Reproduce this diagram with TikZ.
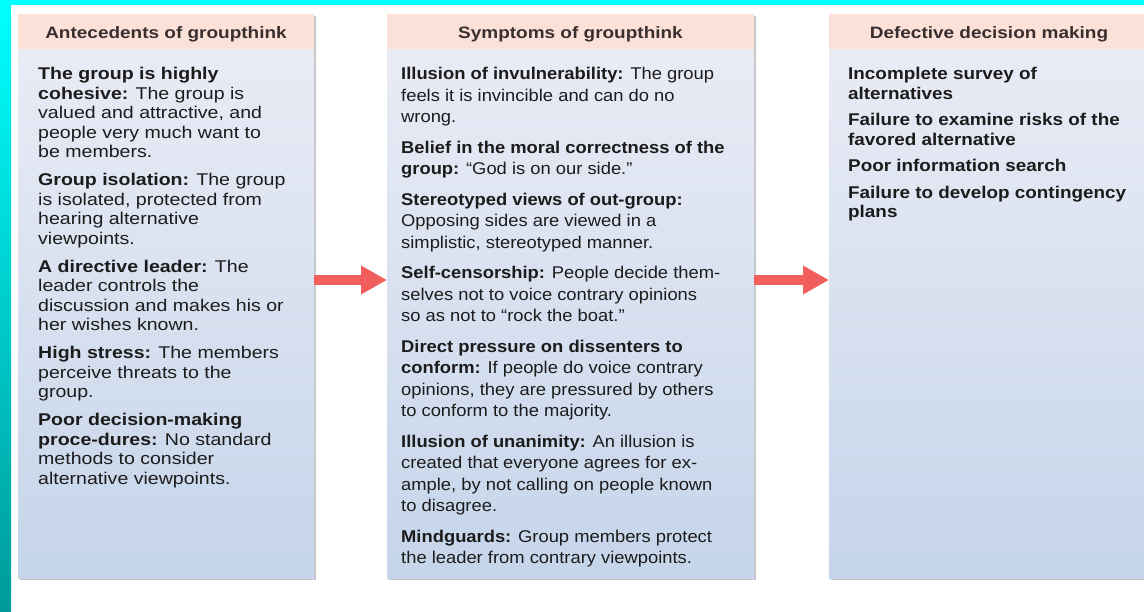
\documentclass[tikz,border=0pt]{standalone}
\usepackage{fontspec}
\setmainfont{Liberation Sans}
\newfontfamily\fA{Liberation Sans}[FakeStretch=1.15]
\newfontfamily\fB{Liberation Sans}[FakeStretch=1.08]
\newfontfamily\fC{Liberation Sans}[FakeStretch=1.11]
\usetikzlibrary{arrows.meta,shadows}
\definecolor{bartop}{HTML}{00FFFF}
\definecolor{barmid}{HTML}{00D4D4}
\definecolor{barbot}{HTML}{009A9A}
\definecolor{bodytop}{HTML}{ECEDF6}
\definecolor{bodybot}{HTML}{C5D5EA}
\definecolor{hdrpink}{HTML}{FCE1D9}
\definecolor{hdrtxt}{HTML}{3A2F2F}
\definecolor{bodytxt}{HTML}{1C1C1C}
\definecolor{arrowred}{HTML}{F05F5C}
\begin{document}
\begin{tikzpicture}[x=1pt,y=-1pt,
  panel/.style={anchor=north west, inner sep=0, minimum height=564pt, top color=bodytop, bottom color=bodybot, draw=none,
    drop shadow={shadow xshift=2pt, shadow yshift=-2pt, opacity=.22, fill=black}},
  hdr/.style={anchor=north west, inner sep=0, minimum height=35pt, fill=hdrpink, draw=none},
  hdrtext/.style={anchor=base, inner sep=0, text=hdrtxt, font=\fA\fontsize{16.5}{19}\selectfont\bfseries},
  body/.style={anchor=base west, inner sep=0, text=bodytxt},
  flow/.style={line width=10pt, draw=arrowred, -{Triangle[width=27pt,length=26pt]}}]
\useasboundingbox (0,0) rectangle (1144,612);
\clip (0,0) rectangle (1144,612);
\fill[white] (0,0) rectangle (1144,612);
\shade[top color=bartop, middle color=barmid, bottom color=barbot] (0,0) rectangle (11,612);
\fill[bartop] (0,0) rectangle (1144,5);

% panels
\node[panel, minimum width=296pt] (b1) at (18,14) {};
\node[panel, minimum width=367pt] (b2) at (387,14) {};
\node[panel, minimum width=320pt] (b3) at (829,14) {};

% header bands
\node[hdr, minimum width=296pt] (h1) at (b1.north west) {};
\node[hdr, minimum width=367pt] (h2) at (b2.north west) {};
\node[hdr, minimum width=320pt] (h3) at (b3.north west) {};

\node[hdrtext] (h1t) at (166,39) {Antecedents of groupthink};
\node[hdrtext] (h2t) at (570.5,39) {Symptoms of groupthink};
\node[hdrtext] (h3t) at (989,39) {Defective decision making};

% body texts
\node[body] (t1) at (38,80) {\parbox[t]{330pt}{\fA\fontsize{17}{19.5}\selectfont\raggedright
\textbf{The group is highly}\\
\textbf{cohesive:} The group is\\
valued and attractive, and\\
people very much want to\\
be members.\\[8.5pt]
\textbf{Group isolation:} The group\\
is isolated, protected from\\
hearing alternative\\
viewpoints.\\[8.5pt]
\textbf{A directive leader:} The\\
leader controls the\\
discussion and makes his or\\
her wishes known.\\[8.5pt]
\textbf{High stress:} The members\\
perceive threats to the\\
group.\\[8.5pt]
\textbf{Poor decision-making}\\
\textbf{proce-dures:} No standard\\
methods to consider\\
alternative viewpoints.}};

\node[body] (t2) at (401,80) {\parbox[t]{400pt}{\fB\fontsize{17}{21.5}\selectfont\raggedright
\textbf{Illusion of invulnerability:} The group\\
feels it is invincible and can do no\\
wrong.\\[9pt]
\textbf{Belief in the moral correctness of the}\\
\textbf{group:} “God is on our side.”\\[9pt]
\textbf{Stereotyped views of out-group:}\\
Opposing sides are viewed in a\\
simplistic, stereotyped manner.\\[9pt]
\textbf{Self-censorship:} People decide them-\\
selves not to voice contrary opinions\\
so as not to “rock the boat.”\\[9pt]
\textbf{Direct pressure on dissenters to}\\
\textbf{conform:} If people do voice contrary\\
opinions, they are pressured by others\\
to conform to the majority.\\[9pt]
\textbf{Illusion of unanimity:} An illusion is\\
created that everyone agrees for ex-\\
ample, by not calling on people known\\
to disagree.\\[9pt]
\textbf{Mindguards:} Group members protect\\
the leader from contrary viewpoints.}};

\node[body] (t3) at (848,80) {\parbox[t]{400pt}{\fC\fontsize{17}{19.5}\selectfont\raggedright\bfseries
Incomplete survey of\\
alternatives\\[7pt]
Failure to examine risks of the\\
favored alternative\\[7pt]
Poor information search\\[7pt]
Failure to develop contingency\\
plans}};

% arrows
\coordinate (ay) at (0,280);
\draw[flow] (b1.east |- ay) -- (b2.west |- ay);
\draw[flow] (b2.east |- ay) -- (b3.west |- ay);
\end{tikzpicture}
\end{document}
